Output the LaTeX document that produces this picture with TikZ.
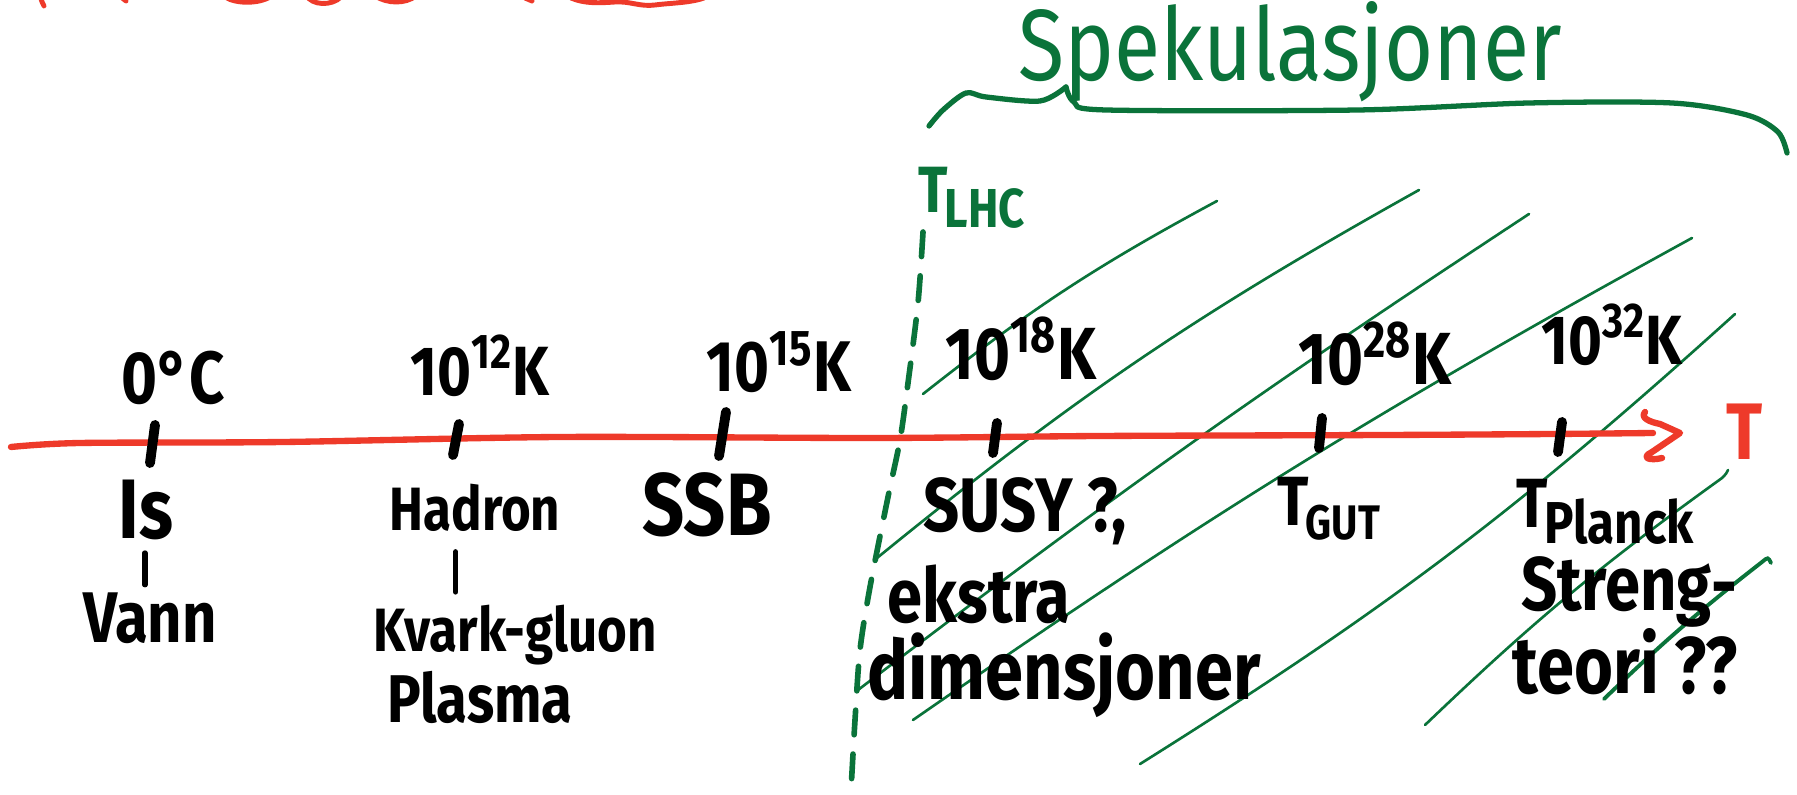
\documentclass[tikz,border=0pt]{standalone}
\usepackage{fontspec}
\setmainfont{Fira Sans}
\usepackage{graphicx}
\definecolor{axisred}{RGB}{238,58,42}
\definecolor{specgreen}{RGB}{10,115,58}
% hand-lettered look: chosen size, stretched a little vertically
\newcommand{\hw}[2]{\scalebox{1}[1.2]{\fontsize{#1}{#1}\selectfont #2}}
\newcommand{\subtxt}[3]{\raisebox{#1}{\fontsize{#2}{#2}\selectfont #3}}

\begin{document}
\begin{tikzpicture}[x=0.01cm, y=-0.01cm,
  axis/.style={draw=axisred, line width=1.8pt, line cap=round, line join=round},
  titlemark/.style={draw=axisred, line width=1.4pt, line cap=round},
  tickmark/.style={draw=black, line width=2.8pt, line cap=round},
  hatch/.style={draw=specgreen, line width=0.75pt, line cap=round},
  brace/.style={draw=specgreen, line width=1.5pt, line cap=round, line join=round},
  lhcline/.style={draw=specgreen, line width=1.6pt, line cap=round, dash pattern=on 7pt off 5.5pt},
  bar/.style={draw=black, line width=1.5pt, line cap=round},
  lbl/.style={inner sep=0pt, text=black, font=\bfseries},
  glbl/.style={lbl, text=specgreen}]
\useasboundingbox (0,0) rectangle (1797,795);
\clip (0,0) rectangle (1797,795);
\fill[white] (0,0) rectangle (1797,795);

% lower edge of the red heading and its wavy underline
\draw[titlemark] (40,-4) .. controls (42,2) .. (44,6);
\draw[titlemark] (121,-3) -- (126,1);
\draw[titlemark] (225,-3) .. controls (236,4) and (258,4) .. (270,-3);
\draw[titlemark] (306,-5) .. controls (312,6) and (332,6) .. (341,-3);
\draw[titlemark] (375,-4) .. controls (388,4) and (405,4) .. (416,-4);
\draw[titlemark] (525,-2) -- (532,1);
\draw[titlemark] (571,-2) .. controls (585,4) and (600,3) .. (615,2)
  .. controls (630,1) and (640,7) .. (655,5) .. controls (670,3) and (690,3) .. (704,-2);

% hatching over the speculative region
\draw[hatch] (923,394) to[bend left=5] (1217,201);
\draw[hatch] (877,558) to[bend left=5] (1419,190);
\draw[hatch] (858,690) to[bend left=2] (1529,214);
\draw[hatch] (913,720) to[bend left=3] (1692,238);
\draw[hatch] (1140,764) to[bend right=5] (1735,314);
\draw[hatch] (1425,725) to[bend left=4] (1722,478) .. controls (1726,474) .. (1728,470);
\draw[hatch, line width=1.1pt] (1604,699) to[bend left=3] (1762,562) .. controls (1768,557) .. (1771,563);

% LHC reach
\draw[lhcline] plot[smooth] coordinates {(923,232) (918,303) (908,383) (900,440) (888,497) (870,587) (860,650) (855,720) (851,790)};
\node[glbl] (tlhc) at (972,198) {\hw{15.5}{T\kern-1pt\subtxt{-3.7pt}{13}{LHC}}};

% brace and heading of the speculative region
\draw[brace] plot[smooth] coordinates {(929,126) (943,110) (966,93) (986,97) (1040,101) (1066,87)};
\draw[brace] plot[smooth] coordinates {(1066,87) (1074,102) (1106,110) (1358,110) (1529,103) (1672,103) (1747,115) (1778,132) (1787,153)};
\node[glbl, font=\mdseries] (spek) at (1290,52) {\hw{24}{Spekulasjoner}};

% temperature axis
\coordinate (axstart) at (11,447);
\coordinate (axend) at (1653,433);
\draw[axis] plot[smooth] coordinates {(axstart) (80,443) (284,442) (560,437) (876,438) (1100,436) (1387,435) (1553,434) (axend)};
\draw[axis] (1645,412) .. controls (1640,418) and (1650,422) .. (1660,424) -- (1680,433)
  -- (1652,452) .. controls (1640,458) and (1650,461) .. (1662,458);
\node[lbl, text=axisred] (tlabel) at (1745,432) {\hw{19}{T}};

% tick marks
\draw[tickmark] (155,425) -- (150,463);
\draw[tickmark] (459,424) -- (453,455);
\draw[tickmark] (726,412) -- (719,456);
\draw[tickmark] (997,423) -- (993,453);
\draw[tickmark] (1322,418) -- (1319,448);
\draw[tickmark] (1562,422) -- (1558,452);

% temperatures
\node[lbl] (c0)  at (173,378)  {\hw{17.5}{0°C}};
\node[lbl] (c12) at (480,366)  {\hw{16.5}{10\textsuperscript{12}K}};
\node[lbl] (c15) at (779,362)  {\hw{17}{10\textsuperscript{15}K}};
\node[lbl] (c18) at (1021,349) {\hw{17.5}{10\textsuperscript{18}K}};
\node[lbl] (c28) at (1375,354) {\hw{17.5}{10\textsuperscript{28}K}};
\node[lbl] (c32) at (1612,335) {\hw{16.5}{10\textsuperscript{32}K}};

% phases and scales
\node[lbl] (is)     at (146,510)  {\hw{20}{Is}};
\node[lbl] (vann)   at (150,618)  {\hw{17}{Vann}};
\node[lbl] (hadron) at (475,508)  {\hw{14.5}{Hadron}};
\node[lbl] (kvark)  at (515,635)  {\hw{14.5}{Kvark-gluon}};
\node[lbl] (plasma) at (480,697)  {\hw{16}{Plasma}};
\node[lbl] (ssb)    at (707,505)  {\hw{21}{SSB}};
\node[lbl] (susy)   at (1025,511) {\hw{18}{SUSY ?,}};
\node[lbl] (ekstra) at (979,594)  {\hw{18}{ekstra}};
\node[lbl] (dim)    at (1064,675) {\hw{19.5}{dimensjoner}};
\node[lbl] (tgut)   at (1329,509) {\hw{16.5}{T\kern-1pt\subtxt{-3.3pt}{11.5}{GUT}}};
\node[lbl] (tplanck) at (1605,512) {\hw{16.5}{T\kern-1pt\subtxt{-3.9pt}{14}{Planck}}};
\node[lbl] (streng) at (1629,592) {\hw{18}{Streng-}};
\node[lbl] (teori)  at (1625,662) {\hw{19}{teori ??}};

% transitions
\draw[bar, shorten <=3.5pt, shorten >=2pt] ([xshift=-0.3pt]is.south) -- ([xshift=-0.3pt]is.south |- vann.north);
\draw[bar, shorten <=5.5pt, shorten >=3.5pt] ([xshift=-5.5pt]hadron.south) -- ([xshift=-5.5pt]hadron.south |- kvark.north);
\end{tikzpicture}
\end{document}
